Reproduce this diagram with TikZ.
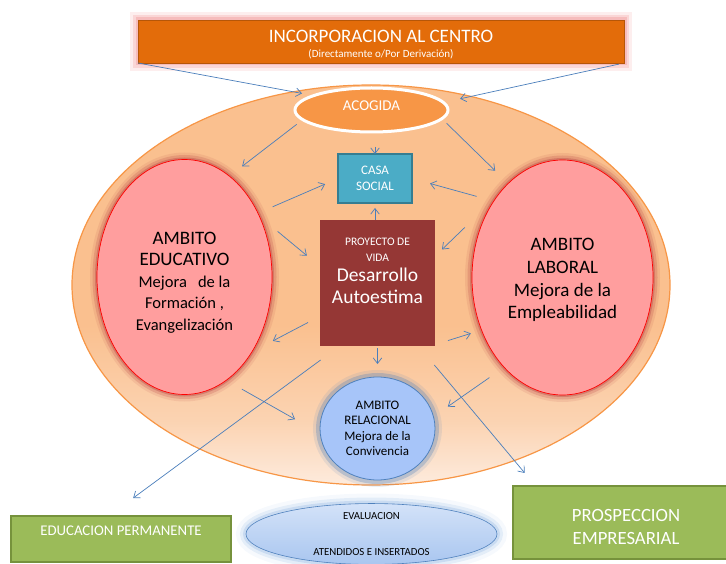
\documentclass[tikz,border=0pt]{standalone}
\usepackage{fontspec}
\setmainfont{Carlito}
\usetikzlibrary{shapes.geometric,arrows.meta}

\definecolor{naranja}{HTML}{E36C0A}
\definecolor{naranjaclaro}{HTML}{F79646}
\definecolor{fondoarriba}{HTML}{FAC08F}
\definecolor{fondoabajo}{HTML}{FDEBDD}
\definecolor{brillorosa}{HTML}{F08C8C}
\definecolor{turquesa}{HTML}{4BACC6}
\definecolor{turquesaosc}{HTML}{357D91}
\definecolor{granate}{HTML}{953735}
\definecolor{rosa}{HTML}{FF9E9E}
\definecolor{sombraroja}{HTML}{C0504D}
\definecolor{azulclaro}{HTML}{A7C5F9}
\definecolor{azulborde}{HTML}{4F81BD}
\definecolor{azulbrillo}{HTML}{8DB3E2}
\definecolor{azularriba}{HTML}{D3E2F8}
\definecolor{azulabajo}{HTML}{A9C6F0}
\definecolor{verde}{HTML}{9BBB59}
\definecolor{verdeosc}{HTML}{76923C}
\definecolor{azulflecha}{HTML}{4A7EBB}

\pgfdeclareverticalshading{fondoambito}{100bp}{color(0bp)=(fondoabajo); color(25bp)=(fondoabajo); color(33bp)=(fondoabajo!45!fondoarriba); color(45bp)=(fondoarriba); color(100bp)=(fondoarriba)}

\begin{document}
\begin{tikzpicture}[x=1pt,y=-1pt,
    caja/.style={rectangle,inner sep=0pt,outer sep=0pt,align=center},
    elipse/.style={ellipse,inner sep=0pt,outer sep=0pt,align=center},
    flecha/.style={draw=azulflecha,line width=0.7pt,-{Straight Barb[length=5.5pt,width=8.5pt]}},
    ambito/.style={elipse,fill=rosa,draw=red,line width=0.7pt,
        preaction={draw=sombraroja,line width=14pt,draw opacity=0.12},
        preaction={draw=sombraroja,line width=9pt,draw opacity=0.25},
        preaction={draw=sombraroja,line width=4pt,draw opacity=0.45}},
    verdecaja/.style={caja,fill=verde,draw=verdeosc,line width=1.5pt,text=white}]

    \useasboundingbox (0,0) rectangle (726,564);

    \node[elipse,minimum width=598,minimum height=400,draw=naranjaclaro,line width=1.2pt,shade,shading=fondoambito] (fondo) at (371,285) {};

    \node[caja,minimum width=486,minimum height=43,fill=naranja,draw=naranja!80!black,line width=0.6pt,text=white,
        font=\fontsize{11}{15.5}\selectfont,text height=33pt,text depth=0pt,
        preaction={draw=brillorosa,line width=16pt,draw opacity=0.15},
        preaction={draw=brillorosa,line width=10pt,draw opacity=0.25},
        preaction={draw=brillorosa,line width=5pt,draw opacity=0.35}] (incorp) at (381,41.5)
        {{\fontsize{19}{15.5}\selectfont INCORPORACION AL CENTRO}\\(Directamente o/Por Derivación)};

    \node[elipse,minimum width=153,minimum height=44,fill=naranjaclaro,draw=white,line width=3pt,text=white,
        text depth=8pt,font=\fontsize{15}{17}\selectfont] (acogida) at (371.5,110) {ACOGIDA};

    \node[caja,minimum width=74,minimum height=49,fill=turquesa,draw=turquesaosc,line width=1.5pt,text=white,
        font=\fontsize{13}{15.5}\selectfont] (casa) at (375,178.5) {CASA\\SOCIAL};

    \node[caja,minimum width=115,minimum height=126,fill=granate,text=white,text depth=24pt,
        font=\fontsize{11.5}{16}\selectfont] (proyecto) at (377.5,283)
        {PROYECTO DE\\VIDA\\[4pt]{\fontsize{19.5}{16}\selectfont Desarrollo}\\[6pt]{\fontsize{19.5}{16}\selectfont Autoestima}};

    \node[ambito,minimum width=175,minimum height=235,text height=107pt,text depth=0pt,font=\fontsize{16.5}{21.5}\selectfont] (educ) at (184.5,277)
        {{\fontsize{19}{21.5}\selectfont AMBITO}\\{\fontsize{19}{21.5}\selectfont EDUCATIVO}\\Mejora\ \ \ de la\\Formación ,\\Evangelización};

    \node[ambito,minimum width=181,minimum height=235,text height=83pt,text depth=0pt,font=\fontsize{19}{22.7}\selectfont] (labor) at (562.5,277.5)
        {AMBITO\\LABORAL\\Mejora de la\\Empleabilidad};

    \node[elipse,minimum width=115,minimum height=103,fill=azulclaro,draw=azulborde,line width=0.8pt,
        font=\fontsize{13}{15.5}\selectfont,
        preaction={draw=azulborde,line width=14pt,draw opacity=0.12},
        preaction={draw=azulborde,line width=8pt,draw opacity=0.3}] (relac) at (377.5,428.5)
        {AMBITO\\RELACIONAL\\Mejora de la\\Convivencia};

    \node[elipse,minimum width=251,minimum height=60,top color=azularriba,bottom color=azulabajo,draw=azulborde,line width=0.6pt,
        font=\fontsize{10.8}{36}\selectfont,
        preaction={draw=azulbrillo,line width=20pt,draw opacity=0.08},
        preaction={draw=azulbrillo,line width=12pt,draw opacity=0.18},
        preaction={draw=azulbrillo,line width=6pt,draw opacity=0.3}] (evalua) at (371.5,534)
        {EVALUACION\\ATENDIDOS E INSERTADOS};

    \node[verdecaja,minimum width=220,minimum height=46,text depth=17pt,font=\fontsize{14.8}{17}\selectfont] (educperm) at (121,539)
        {EDUCACION PERMANENTE};

    \node[verdecaja,minimum width=226,minimum height=73,text height=43pt,text depth=0pt,font=\fontsize{18.7}{23}\selectfont] (prosp) at (626,522.5)
        {PROSPECCION\\EMPRESARIAL};

    \draw[flecha,shorten >=11.9pt] (incorp.south west) -- (acogida.166);
    \draw[flecha,shorten <=5pt,shorten >=17.1pt] (incorp.south east) -- (acogida.6);
    \draw[flecha,shorten <=7.7pt,shorten >=16pt] (acogida.188) -- (educ.66);
    \draw[flecha,shorten <=6.6pt,shorten >=18.2pt] (acogida.353) -- (labor.120);
    \draw[flecha,shorten <=15pt] (casa.north |- acogida.south) -- (casa.north);
    \draw[flecha,shorten <=16pt,shorten >=14pt] (educ.41) -- (casa.west);
    \draw[flecha,shorten <=17.7pt,shorten >=18.7pt] (labor.132) -- (casa.east);
    \draw[flecha,shorten >=5pt] (casa.south |- proyecto.north) -- (casa.south);
    \draw[flecha,shorten <=23.7pt,shorten >=17pt] (educ.39) -- (proyecto.164);
    \draw[flecha,shorten <=13.5pt,shorten >=23.6pt] (proyecto.210) -- (educ.312);
    \draw[flecha,shorten <=44.5pt,shorten >=9.7pt] (labor.129) -- (proyecto.25);
    \draw[flecha,shorten <=13.6pt,shorten >=11.2pt] (proyecto.313) -- (labor.213);
    \draw[flecha,shorten <=2pt,shorten >=13pt] (proyecto.south) -- (relac.north);
    \draw[flecha,shorten <=23.6pt,shorten >=30.3pt] (proyecto.239) -- (educperm.118);
    \draw[flecha,shorten <=18pt,shorten >=29pt] (educ.292) -- (relac.185);
    \draw[flecha,shorten <=17.9pt,shorten >=17.5pt] (labor.237) -- (relac.12);
    \draw[flecha,shorten <=24.8pt,shorten >=17pt] (proyecto.303) -- (prosp.158);

\end{tikzpicture}
\end{document}
